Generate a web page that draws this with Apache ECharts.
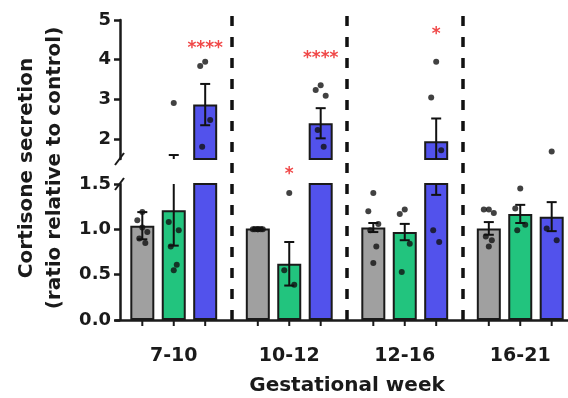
<!DOCTYPE html>
<html>
<head>
<meta charset="utf-8">
<script src="https://cdn.jsdelivr.net/npm/echarts@6/dist/echarts.min.js"></script>
<style>
html, body { margin: 0; padding: 0; background: #fff; }
#chart { width: 568px; height: 398px; }
</style>
</head>
<body>
<div id="chart"></div>
<script>
var weeks = ['7-10', '10-12', '12-16', '16-21'];

// bar heights (mean) and error (SEM), one value per week
var grayMean = [1.04, 1.01, 1.02, 1.01];
var grayErr = [0.15, 0.01, 0.05, 0.07];
var greenMean = [1.21, 0.62, 0.97, 1.17];
var greenErr = [0.39, 0.24, 0.09, 0.10];
var blueMean = [2.87, 2.40, 1.95, 1.14];
var blueErr = [0.52, 0.38, 0.57, 0.16];

// single points per bar
var grayPts = [
	[1.19, 1.10, 0.97, 0.90, 0.85, 1.02],
	[1.00, 1.00, 1.00, 1.00, 1.00, 1.00],
	[1.40, 1.20, 1.06, 0.99, 0.81, 0.63],
	[1.22, 1.22, 1.18, 0.92, 0.88, 0.81]
];
var greenPts = [
	[2.91, 1.08, 0.99, 0.81, 0.61, 0.55],
	[1.40, 0.55, 0.39],
	[1.22, 1.17, 0.84, 0.53],
	[1.45, 1.23, 1.05, 0.99]
];
var bluePts = [
	[3.95, 3.84, 2.48, 1.81],
	[3.36, 3.24, 3.09, 2.23, 1.81],
	[3.95, 3.05, 1.72, 0.99, 0.86],
	[1.69, 1.01, 0.88]
];

// significance marks: week index, bar index (0 gray, 1 green, 2 blue), height, text
var starsUpWeek = [0, 1, 2];
var starsUpBar = [2, 2, 2];
var starsUpVal = [4.39, 4.12, 4.73];
var starsUpText = ['****', '****', '*'];
var starsLowWeek = [1];
var starsLowBar = [1];
var starsLowVal = [1.65];
var starsLowText = ['*'];

var upperTicks = [2, 3, 4, 5];
var BREAK = 1.5;

var BAR_W = 24;
var BAR_GAP = 0.31;
var PITCH = BAR_W * (1 + BAR_GAP);
var JIT = [0, -5, 5, -3, 3, 0];
var INK = '#1a1a1a';
var FONT = 'DejaVu Sans';
var colors = ['#a0a0a0', '#22c47e', '#5252ec'];

var means = [grayMean, greenMean, blueMean];
var errs = [grayErr, greenErr, blueErr];
var pts = [grayPts, greenPts, bluePts];

function barSeries(b, grid) {
	return {
		type: 'bar',
		xAxisIndex: grid,
		yAxisIndex: grid,
		barWidth: BAR_W,
		barGap: (BAR_GAP * 100) + '%',
		clip: true,
		itemStyle: { color: colors[b], borderColor: INK, borderWidth: 2 },
		data: means[b].map(function(v) {
			if (grid == 0) return v > BREAK ? v : '-';
			return v;
		}),
		z: 2
	};
}

function pointSeries(b, grid) {
	var out = [];
	pts[b].forEach(function(list, g) {
		list.forEach(function(v, k) {
			if ((v > BREAK) === (grid == 0)) {
				out.push({ value: [g, v], symbolOffset: [(b - 1) * PITCH + JIT[k % JIT.length], 0] });
			}
		});
	});
	return {
		type: 'scatter',
		xAxisIndex: grid,
		yAxisIndex: grid,
		symbol: 'circle',
		symbolSize: 6,
		itemStyle: { color: '#111' },
		data: out,
		z: 4
	};
}

function errRender(params, api) {
	var g = api.value(0), b = api.value(1), m = api.value(2), e = api.value(3);
	var cs = params.coordSys;
	var x = api.coord([g, m])[0] + (b - 1) * PITCH;
	var yTop = api.coord([g, m + e])[1];
	var yBot = api.coord([g, m - e])[1];
	var lo = cs.y, hi = cs.y + cs.height;
	var y1 = Math.max(yTop, lo), y2 = Math.min(yBot, hi);
	var kids = [];
	var st = { stroke: '#111', lineWidth: 2 };
	if (y1 < y2) kids.push({ type: 'line', shape: { x1: x, y1: y1, x2: x, y2: y2 }, style: st });
	[yTop, yBot].forEach(function(y) {
		if (y >= lo - 0.5 && y <= hi + 0.5) {
			kids.push({ type: 'line', shape: { x1: x - 5, y1: y, x2: x + 5, y2: y }, style: st });
		}
	});
	return { type: 'group', children: kids };
}

function errSeries(grid) {
	var data = [];
	for (var b = 0; b < 3; b++) {
		for (var g = 0; g < weeks.length; g++) data.push([g, b, means[b][g], errs[b][g]]);
	}
	return {
		type: 'custom',
		xAxisIndex: grid,
		yAxisIndex: grid,
		encode: { x: 0, y: 2 },
		renderItem: errRender,
		data: data,
		z: 3
	};
}

function starSeries(grid, wk, bars, vals, texts) {
	return {
		type: 'custom',
		xAxisIndex: grid,
		yAxisIndex: grid,
		encode: { x: 0, y: 2 },
		clip: false,
		renderItem: function(params, api) {
			var p = api.coord([api.value(0), api.value(2)]);
			return {
				type: 'text',
				x: p[0] + (api.value(1) - 1) * PITCH,
				y: p[1] + 4,
				style: {
					text: texts[params.dataIndex],
					fill: '#f04848',
					font: 'bold 17px "' + FONT + '"',
					align: 'center',
					verticalAlign: 'middle'
				}
			};
		},
		data: wk.map(function(g, i) { return [g, bars[i], vals[i]]; }),
		z: 5
	};
}

// little ticks under every bar
var tickData = [];
for (var g = 0; g < weeks.length; g++) for (var b = 0; b < 3; b++) tickData.push([g, b]);
var tickSeries = {
	type: 'custom',
	xAxisIndex: 1,
	yAxisIndex: 1,
	encode: { x: 0 },
	clip: false,
	renderItem: function(params, api) {
		var p = api.coord([api.value(0), 0]);
		var x = p[0] + (api.value(1) - 1) * PITCH;
		return { type: 'line', shape: { x1: x, y1: p[1], x2: x, y2: p[1] + 6 }, style: { stroke: INK, lineWidth: 2 } };
	},
	data: tickData
};

var axisLineStyle = { color: INK, width: 2.5 };
var labelStyle = { color: INK, fontFamily: FONT, fontWeight: 'bold', fontSize: 18 };

var chart = echarts.init(document.getElementById('chart'));
var option = {
	animation: false,
	textStyle: { fontFamily: FONT },
	grid: [
		{ left: 116, width: 462, top: 20, bottom: 239, outerBoundsMode: 'none', containLabel: false },
		{ left: 116, width: 462, top: 184, bottom: 78, outerBoundsMode: 'none', containLabel: false },
		{ left: 116, width: 462, top: 16, bottom: 78, outerBoundsMode: 'none', containLabel: false }
	],
	xAxis: [
		{ gridIndex: 0, type: 'category', data: weeks, axisLine: { show: false }, axisTick: { show: false }, axisLabel: { show: false } },
		{
			gridIndex: 1, type: 'category', data: weeks,
			axisLine: { lineStyle: axisLineStyle },
			axisTick: { show: false },
			axisLabel: { color: INK, fontFamily: FONT, fontWeight: 'bold', fontSize: 19, margin: 27 },
			name: 'Gestational week', nameLocation: 'middle', nameGap: 56,
			nameTextStyle: { color: INK, fontFamily: FONT, fontWeight: 'bold', fontSize: 20 }
		},
		{
			gridIndex: 2, type: 'category', data: weeks,
			axisLine: { show: false }, axisTick: { show: false }, axisLabel: { show: false },
			splitLine: {
				show: true,
				interval: function(index) { return index > 0 && index < weeks.length; },
				lineStyle: { color: '#111', width: 3.5, type: [10, 11] }
			}
		}
	],
	yAxis: [
		{
			gridIndex: 0, type: 'value', min: BREAK, max: 5, offset: -4,
			axisLine: { show: true, lineStyle: axisLineStyle },
			axisTick: { show: true, length: 6, lineStyle: { color: INK, width: 2.5 }, customValues: upperTicks },
			axisLabel: Object.assign({ margin: 9, customValues: upperTicks }, labelStyle),
			splitLine: { show: false }
		},
		{
			gridIndex: 1, type: 'value', min: 0, max: BREAK, interval: 0.5, offset: -4,
			axisLine: { show: true, lineStyle: axisLineStyle },
			axisTick: { show: true, length: 6, lineStyle: { color: INK, width: 2.5 } },
			axisLabel: Object.assign({ margin: 9, formatter: function(v) { return v.toFixed(1); } }, labelStyle),
			splitLine: { show: false }
		},
		{
			gridIndex: 2, type: 'value', min: 0, max: 1,
			axisLine: { show: false }, axisTick: { show: false }, axisLabel: { show: false }, splitLine: { show: false },
			name: 'Cortisone secretion\n(ratio relative to control)',
			nameLocation: 'middle', nameGap: 47,
			nameTextStyle: { color: INK, fontFamily: FONT, fontWeight: 'bold', fontSize: 20, lineHeight: 28 }
		}
	],
	series: [
		barSeries(0, 0), barSeries(1, 0), barSeries(2, 0),
		barSeries(0, 1), barSeries(1, 1), barSeries(2, 1),
		errSeries(0), errSeries(1),
		pointSeries(0, 0), pointSeries(1, 0), pointSeries(2, 0),
		pointSeries(0, 1), pointSeries(1, 1), pointSeries(2, 1),
		starSeries(0, starsUpWeek, starsUpBar, starsUpVal, starsUpText),
		starSeries(1, starsLowWeek, starsLowBar, starsLowVal, starsLowText),
		tickSeries
	]
};
chart.setOption(option);

// axis break marks, placed from the axis scale
var yUp = chart.convertToPixel({ yAxisIndex: 0 }, BREAK);
var yLow = chart.convertToPixel({ yAxisIndex: 1 }, BREAK);
var xAx = 120;
chart.setOption({
	graphic: [
		{ type: 'line', shape: { x1: xAx - 5, y1: yUp + 6, x2: xAx + 4, y2: yUp - 6 }, style: { stroke: INK, lineWidth: 2 } },
		{ type: 'line', shape: { x1: xAx - 5, y1: yLow + 6, x2: xAx + 4, y2: yLow - 6 }, style: { stroke: INK, lineWidth: 2 } }
	]
});
</script>
</body>
</html>
